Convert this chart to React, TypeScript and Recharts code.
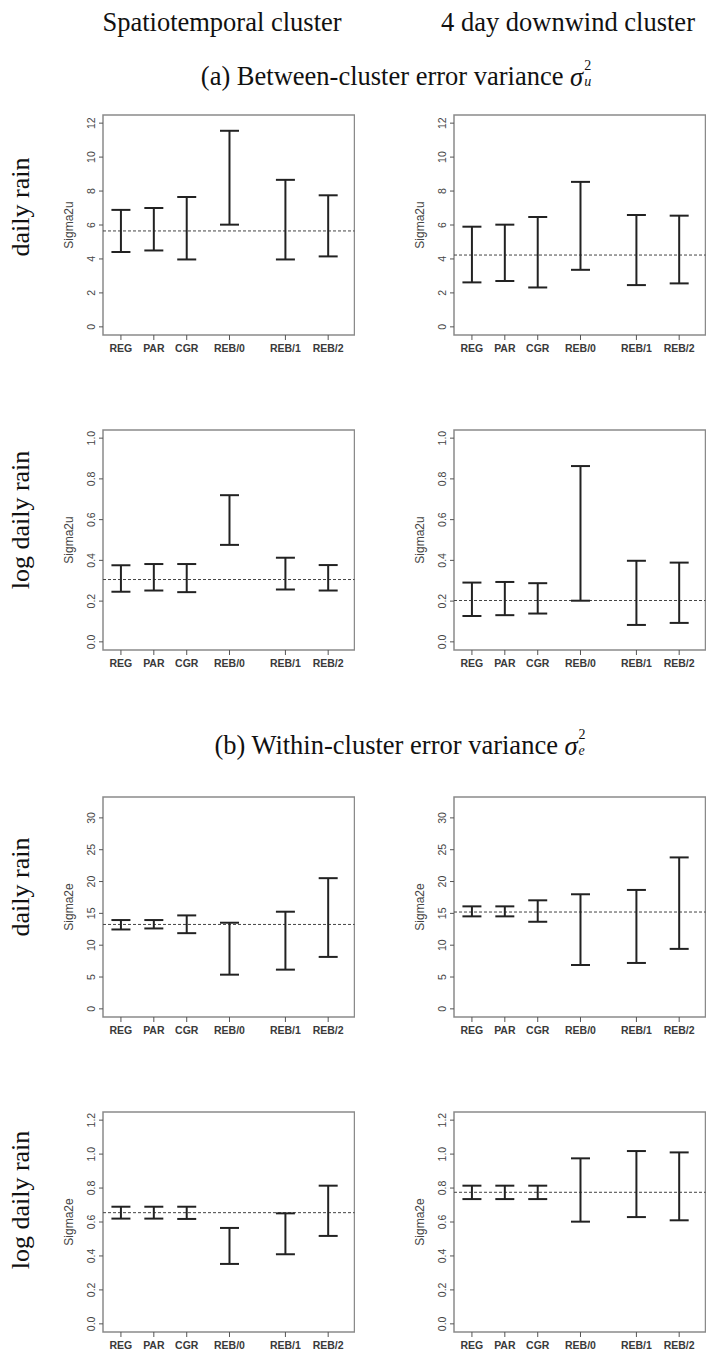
import {
  ScatterChart,
  Scatter,
  ErrorBar,
  XAxis,
  YAxis,
  ReferenceLine,
  ReferenceArea,
} from 'recharts'

// ── Data ──────────────────────────────────────────────────────────────────────

const METHODS = ['REG', 'PAR', 'CGR', 'REB/0', 'REB/1', 'REB/2']
const METHOD_POS = [1, 2, 3, 4.3, 6, 7.3]

// (a) between-cluster variance sigma_u^2, interval bounds per method
const U_RAIN_ST_LO = [4.41, 4.5, 3.97, 6.02, 3.97, 4.15]
const U_RAIN_ST_HI = [6.89, 7.0, 7.65, 11.55, 8.66, 7.75]
const U_RAIN_ST_REF = 5.65

const U_RAIN_DW_LO = [2.62, 2.7, 2.32, 3.36, 2.46, 2.56]
const U_RAIN_DW_HI = [5.9, 6.02, 6.47, 8.54, 6.59, 6.55]
const U_RAIN_DW_REF = 4.23

const U_LOG_ST_LO = [0.246, 0.252, 0.244, 0.476, 0.257, 0.252]
const U_LOG_ST_HI = [0.376, 0.382, 0.382, 0.72, 0.413, 0.377]
const U_LOG_ST_REF = 0.306

const U_LOG_DW_LO = [0.127, 0.131, 0.139, 0.202, 0.083, 0.093]
const U_LOG_DW_HI = [0.291, 0.294, 0.288, 0.863, 0.398, 0.389]
const U_LOG_DW_REF = 0.203

// (b) within-cluster variance sigma_e^2
const E_RAIN_ST_LO = [12.47, 12.63, 11.89, 5.37, 6.16, 8.16]
const E_RAIN_ST_HI = [13.95, 13.95, 14.68, 13.53, 15.26, 20.53]
const E_RAIN_ST_REF = 13.26

const E_RAIN_DW_LO = [14.53, 14.53, 13.68, 6.89, 7.21, 9.42]
const E_RAIN_DW_HI = [16.1, 16.1, 17.05, 18.0, 18.68, 23.79]
const E_RAIN_DW_REF = 15.21

const E_LOG_ST_LO = [0.62, 0.62, 0.618, 0.353, 0.41, 0.518]
const E_LOG_ST_HI = [0.69, 0.69, 0.69, 0.565, 0.651, 0.814]
const E_LOG_ST_REF = 0.655

const E_LOG_DW_LO = [0.735, 0.735, 0.735, 0.602, 0.629, 0.61]
const E_LOG_DW_HI = [0.814, 0.814, 0.814, 0.975, 1.018, 1.01]
const E_LOG_DW_REF = 0.775

const TICKS_U_RAIN = [0, 2, 4, 6, 8, 10, 12]
const TICKS_U_LOG = [0, 0.2, 0.4, 0.6, 0.8, 1.0]
const TICKS_E_RAIN = [0, 5, 10, 15, 20, 25, 30]
const TICKS_E_LOG = [0, 0.2, 0.4, 0.6, 0.8, 1.0, 1.2]

// ── Layout ────────────────────────────────────────────────────────────────────

const SANS = '"Liberation Sans", Arial, Helvetica, sans-serif'
const SERIF = '"Liberation Serif", "Times New Roman", Times, serif'

const BOX_W = 251.5
const BOX_H = 220
const COL_LEFT = [102.7, 454]
const ROW_TOP = [114.5, 430, 797, 1112]
const AXIS_W = 45
const PAD_TOP = 10
const PAD_RIGHT = 1
const X_AXIS_H = 30
const X_DOMAIN = [0.455, 8.1]

// ── Pieces ────────────────────────────────────────────────────────────────────

function RotatedTick(props: any) {
  const { x, y, payload, digits } = props
  return (
    <text
      x={x}
      y={y}
      transform={`rotate(-90 ${x} ${y})`}
      textAnchor="middle"
      fontSize={10.5}
      fontFamily={SANS}
      fill="#444"
    >
      {Number(payload.value).toFixed(digits)}
    </text>
  )
}

function AxisTitle(props: any) {
  const { viewBox, text } = props
  const cx = viewBox.x + 15
  const cy = viewBox.y + viewBox.height / 2
  return (
    <text
      x={cx}
      y={cy}
      transform={`rotate(-90 ${cx} ${cy})`}
      textAnchor="middle"
      fontSize={12}
      fontFamily={SANS}
      fill="#444"
    >
      {text}
    </text>
  )
}

interface PanelProps {
  col: number
  row: number
  lo: number[]
  hi: number[]
  refValue: number
  yDomain: [number, number]
  yTicks: number[]
  digits: number
  yLabel: string
}

function Panel({ col, row, lo, hi, refValue, yDomain, yTicks, digits, yLabel }: PanelProps) {
  const data = METHOD_POS.map((x, i) => ({ x, y: lo[i], err: [0, hi[i] - lo[i]] }))
  return (
    <div
      style={{
        position: 'absolute',
        left: COL_LEFT[col] - AXIS_W,
        top: ROW_TOP[row] - PAD_TOP,
      }}
    >
      <ScatterChart
        width={AXIS_W + BOX_W + PAD_RIGHT}
        height={PAD_TOP + BOX_H + X_AXIS_H}
        margin={{ top: PAD_TOP, right: PAD_RIGHT, left: 0, bottom: 0 }}
      >
        <XAxis
          type="number"
          dataKey="x"
          domain={X_DOMAIN}
          ticks={METHOD_POS}
          interval={0}
          allowDataOverflow
          axisLine={false}
          tickSize={5}
          tickMargin={5}
          height={X_AXIS_H}
          stroke="#555"
          tickFormatter={(v: number) => METHODS[METHOD_POS.indexOf(v)]}
          tick={{ fontSize: 10.5, fontWeight: 700, fill: '#3a3a3a', fontFamily: SANS }}
        />
        <YAxis
          type="number"
          dataKey="y"
          domain={yDomain}
          ticks={yTicks}
          interval={0}
          allowDataOverflow
          axisLine={false}
          tickSize={4}
          tickMargin={4}
          width={AXIS_W}
          stroke="#555"
          tick={<RotatedTick digits={digits} />}
          label={<AxisTitle text={yLabel} />}
        />
        <ReferenceArea
          x1={X_DOMAIN[0]}
          x2={X_DOMAIN[1]}
          y1={yDomain[0]}
          y2={yDomain[1]}
          fill="none"
          fillOpacity={0}
          stroke="#8a8a8a"
          strokeWidth={1.5}
          ifOverflow="visible"
        />
        <ReferenceLine y={refValue} stroke="#444" strokeDasharray="3 2" strokeWidth={1} />
        <Scatter data={data} dataKey="y" isAnimationActive={false} shape={() => <g />}>
          <ErrorBar
            dataKey="err"
            direction="y"
            width={9.5}
            stroke="#222"
            strokeWidth={2}
            isAnimationActive={false}
          />
        </Scatter>
      </ScatterChart>
    </div>
  )
}

function Sigma({ sub }: { sub: string }) {
  return (
    <span style={{ whiteSpace: 'nowrap' }}>
      <i>σ</i>
      <span style={{ position: 'relative', display: 'inline-block', width: 12, height: '1em' }}>
        <span style={{ position: 'absolute', left: 1, top: 0, fontSize: 14, lineHeight: 1 }}>2</span>
        <i style={{ position: 'absolute', left: 1, top: 16, fontSize: 14, lineHeight: 1 }}>{sub}</i>
      </span>
    </span>
  )
}

function Heading({ x, y, children }: { x: number; y: number; children: any }) {
  return (
    <div
      style={{
        position: 'absolute',
        left: x,
        top: y,
        transform: 'translate(-50%, -50%)',
        whiteSpace: 'nowrap',
        fontFamily: SERIF,
        fontSize: 26.5,
        lineHeight: 1,
        color: '#111',
      }}
    >
      {children}
    </div>
  )
}

function RowLabel({ y, text }: { y: number; text: string }) {
  return (
    <div
      style={{
        position: 'absolute',
        left: 21,
        top: y,
        transform: 'translate(-50%, -50%) rotate(-90deg)',
        whiteSpace: 'nowrap',
        fontFamily: SERIF,
        fontSize: 26,
        lineHeight: 1,
        color: '#111',
      }}
    >
      {text}
    </div>
  )
}

// ── App ───────────────────────────────────────────────────────────────────────

export default function App() {
  const uRain: [number, number] = [-0.48, 12.48]
  const uLog: [number, number] = [-0.04, 1.04]
  const eRain: [number, number] = [-1.28, 33.28]
  const eLog: [number, number] = [-0.048, 1.248]
  return (
    <div
      style={{
        position: 'absolute',
        left: 0,
        top: 0,
        width: 706,
        height: 1359,
        background: '#fff',
        overflow: 'hidden',
      }}
    >
      <Heading x={222} y={22}>Spatiotemporal cluster</Heading>
      <Heading x={568} y={22}>4 day downwind cluster</Heading>
      <Heading x={398} y={74}>
        (a) Between-cluster error variance <Sigma sub="u" />
      </Heading>
      <Heading x={402} y={743}>
        (b) Within-cluster error variance <Sigma sub="e" />
      </Heading>

      <RowLabel y={207} text="daily rain" />
      <RowLabel y={520} text="log daily rain" />
      <RowLabel y={887} text="daily rain" />
      <RowLabel y={1200} text="log daily rain" />

      <Panel col={0} row={0} lo={U_RAIN_ST_LO} hi={U_RAIN_ST_HI} refValue={U_RAIN_ST_REF}
        yDomain={uRain} yTicks={TICKS_U_RAIN} digits={0} yLabel="Sigma2u" />
      <Panel col={1} row={0} lo={U_RAIN_DW_LO} hi={U_RAIN_DW_HI} refValue={U_RAIN_DW_REF}
        yDomain={uRain} yTicks={TICKS_U_RAIN} digits={0} yLabel="Sigma2u" />
      <Panel col={0} row={1} lo={U_LOG_ST_LO} hi={U_LOG_ST_HI} refValue={U_LOG_ST_REF}
        yDomain={uLog} yTicks={TICKS_U_LOG} digits={1} yLabel="Sigma2u" />
      <Panel col={1} row={1} lo={U_LOG_DW_LO} hi={U_LOG_DW_HI} refValue={U_LOG_DW_REF}
        yDomain={uLog} yTicks={TICKS_U_LOG} digits={1} yLabel="Sigma2u" />
      <Panel col={0} row={2} lo={E_RAIN_ST_LO} hi={E_RAIN_ST_HI} refValue={E_RAIN_ST_REF}
        yDomain={eRain} yTicks={TICKS_E_RAIN} digits={0} yLabel="Sigma2e" />
      <Panel col={1} row={2} lo={E_RAIN_DW_LO} hi={E_RAIN_DW_HI} refValue={E_RAIN_DW_REF}
        yDomain={eRain} yTicks={TICKS_E_RAIN} digits={0} yLabel="Sigma2e" />
      <Panel col={0} row={3} lo={E_LOG_ST_LO} hi={E_LOG_ST_HI} refValue={E_LOG_ST_REF}
        yDomain={eLog} yTicks={TICKS_E_LOG} digits={1} yLabel="Sigma2e" />
      <Panel col={1} row={3} lo={E_LOG_DW_LO} hi={E_LOG_DW_HI} refValue={E_LOG_DW_REF}
        yDomain={eLog} yTicks={TICKS_E_LOG} digits={1} yLabel="Sigma2e" />
    </div>
  )
}
